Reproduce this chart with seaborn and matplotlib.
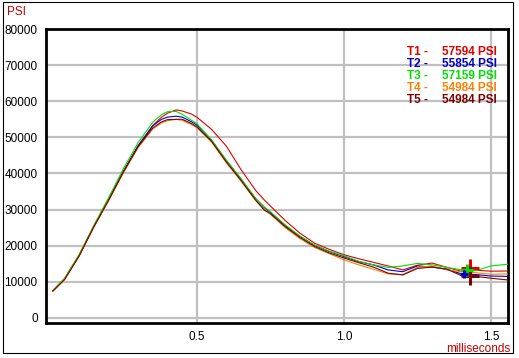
import numpy as np
import pandas as pd
import matplotlib
matplotlib.use("Agg")
import matplotlib.pyplot as plt
from matplotlib.patches import Rectangle
import seaborn as sns

# time axis (milliseconds) shared by all traces
time_ms = [0.01, 0.05, 0.10, 0.15, 0.20, 0.25, 0.30, 0.35, 0.38, 0.40, 0.43, 0.45,
           0.48, 0.50, 0.55, 0.60, 0.65, 0.70, 0.73, 0.75, 0.80, 0.85, 0.90, 0.95, 1.00,
           1.05, 1.10, 1.15, 1.20, 1.25, 1.30, 1.35, 1.40, 1.45, 1.50, 1.56]

t1 = [7500, 10800, 17300, 25300, 32700, 40400, 47400, 53300, 55600, 56700, 57594, 57300,
      56500, 55600, 52200, 47600, 41100, 35300, 32600, 31000, 27000, 23500, 20700, 19000, 17500,
      16400, 15400, 14400, 13300, 14600, 15200, 14000, 12900, 13200, 12950, 13000]
t2 = [7500, 10800, 17400, 25400, 32800, 40600, 47700, 53200, 55000, 55600, 55854, 55600,
      54400, 53400, 49200, 43600, 38400, 33000, 30500, 29200, 25600, 22600, 20100, 18400, 17000,
      15600, 14700, 13300, 12800, 14400, 14100, 13500, 12200, 12000, 11600, 11500]
t3 = [7600, 11000, 17600, 25700, 33300, 41300, 48500, 54200, 56300, 57100, 57159, 56400,
      54800, 53800, 49300, 43700, 38600, 33100, 30700, 29400, 25800, 22700, 20200, 18500, 17200,
      15700, 14700, 14000, 14400, 15100, 14700, 14000, 13300, 13100, 14400, 14900]
t4 = [7400, 10700, 17200, 25200, 32500, 40200, 47100, 52300, 54000, 54600, 54984, 54700,
      53600, 52700, 48700, 43000, 37900, 32500, 30000, 28700, 25000, 22000, 19500, 17800, 16100,
      14700, 13500, 12200, 12000, 14000, 14400, 13300, 12800, 12500, 12100, 12200]
t5 = [7400, 10600, 17200, 25300, 32600, 40400, 47400, 52600, 54300, 54900, 54984, 55000,
      53900, 52900, 48900, 43200, 38100, 32600, 29800, 28900, 25300, 22300, 19800, 18000, 16600,
      15300, 14100, 12400, 11900, 13700, 14100, 13500, 11700, 11500, 11000, 10500]

trace_names = ["T1", "T2", "T3", "T4", "T5"]
peak_psi = [57594, 55854, 57159, 54984, 54984]
trace_colors = ["#e00000", "#0000c8", "#00e000", "#ff8000", "#800000"]

# cursor crosses near 1.43 ms
cursor_x = [1.43, 1.43, 1.42, 1.41]
cursor_y = [13900, 11700, 13200, 12300]
cursor_colors = ["#e00000", "#800000", "#00e000", "#0000c8"]
cursor_sizes = [13, 13, 8, 6]

df = pd.DataFrame({
    "time": time_ms * 5,
    "psi": t1 + t2 + t3 + t4 + t5,
    "trace": sum([[n] * len(time_ms) for n in trace_names], []),
})

sns.set_style("white")
plt.rcParams["font.family"] = ["Liberation Sans", "DejaVu Sans"]

fig = plt.figure(figsize=(5.19, 3.58), dpi=100)
ax = fig.add_axes([46 / 519, 35 / 358, 462 / 519, 294 / 358])

sns.lineplot(data=df, x="time", y="psi", hue="trace", palette=trace_colors,
             hue_order=trace_names, linewidth=0.8, legend=False, ax=ax,
             sort=False, zorder=3)

for cx, cy, cc, cs in zip(cursor_x, cursor_y, cursor_colors, cursor_sizes):
    ax.plot(cx, cy, marker="+", color=cc, markersize=cs, mew=2.2, zorder=4)

ax.set_xlim(-0.013, 1.558)
ax.set_ylim(-1400, 80000)
ax.set_xticks([0.5, 1.0, 1.5])
ax.set_xticklabels(["0.5", "1.0", "1.5"])
ax.set_yticks(np.arange(0, 80001, 10000))
ax.set_yticklabels([str(v) for v in range(0, 80001, 10000)])
ax.grid(True, color="#c0c0c0", linewidth=1.6, zorder=0)
ax.set_axisbelow(True)
ax.tick_params(length=0, labelsize=8.5, colors="black", pad=6)
ax.set_xlabel("")
ax.set_ylabel("")
for s in ax.spines.values():
    s.set_color("black")
    s.set_linewidth(2)
    s.set_visible(True)

# legend block of peak values
for i, (n, p, c) in enumerate(zip(trace_names, peak_psi, trace_colors)):
    yy = 306 - i * 12
    fig.text(407 / 519, yy / 358, n + " -", color=c, fontsize=8.5,
             fontweight="bold", va="center", ha="left")
    fig.text(497 / 519, yy / 358, f"{p} PSI", color=c, fontsize=8.5,
             fontweight="bold", va="center", ha="right")

fig.text(7 / 519, 346 / 358, "PSI", color="#c00000", fontsize=8.5,
         va="center", ha="left")
fig.text(510 / 519, 9 / 358, "milliseconds", color="#c00000", fontsize=8.5,
         va="center", ha="right")

# outer frame
fig.patches.append(Rectangle((3 / 519, 5 / 358), 510 / 519, 351 / 358,
                             transform=fig.transFigure, fill=False,
                             edgecolor="black", linewidth=0.8))

fig.savefig("out.png", dpi=100)
